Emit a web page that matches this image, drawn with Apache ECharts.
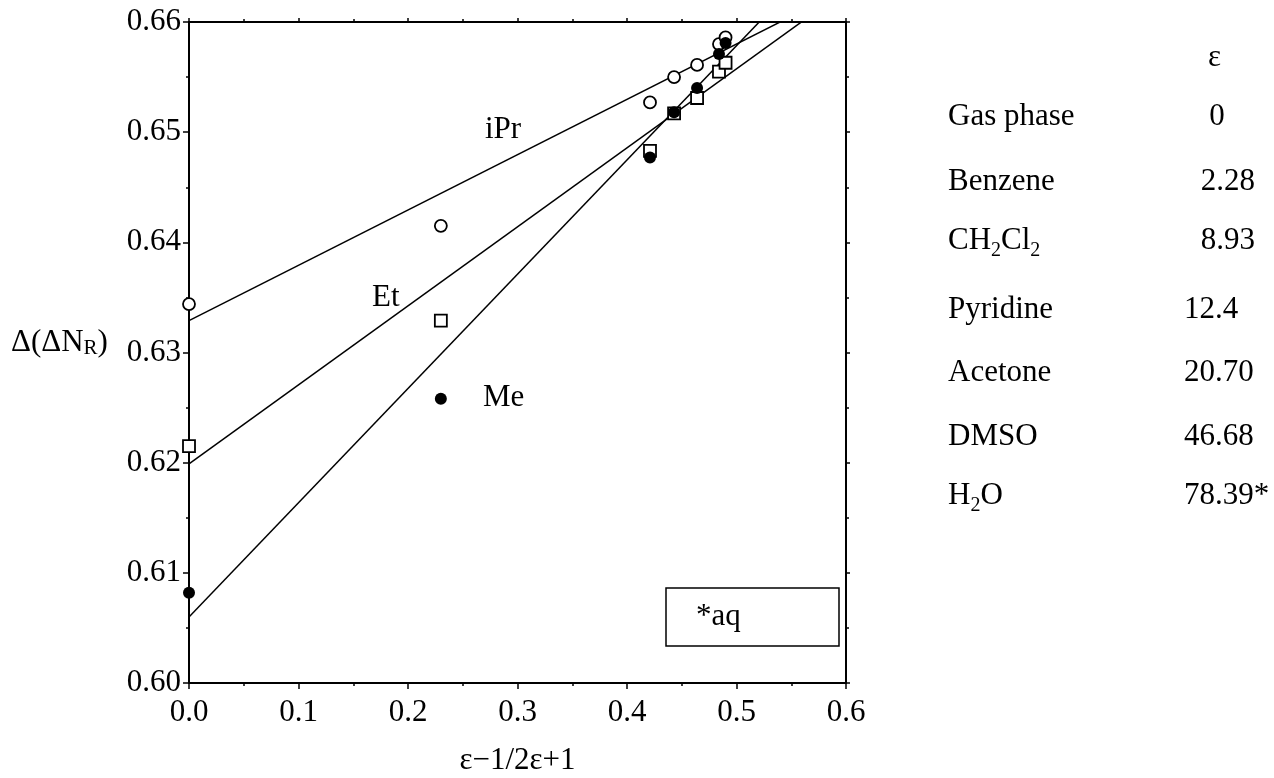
<!DOCTYPE html>
<html>
<head>
<meta charset="utf-8">
<script src="https://cdn.jsdelivr.net/npm/echarts@6/dist/echarts.min.js"></script>
<style>
html,body{margin:0;padding:0;background:#fff;}
#chart{width:1274px;height:778px;}
</style>
</head>
<body>
<div id="chart"></div>
<script>
// solvents, dielectric constants and the polarity function (eps-1)/(2eps+1)
var solvents = ['Gas phase', 'Benzene', 'CH{s|2}Cl{s|2}', 'Pyridine', 'Acetone', 'DMSO', 'H{s|2}O'];
var epsText = ['0', '2.28', '8.93', '12.4', '20.70', '46.68', '78.39*'];
var xPolar = [0, 0.230, 0.421, 0.443, 0.464, 0.484, 0.490];

// Δ(ΔN_R) for each substituent
var iPr = [0.6344, 0.6415, 0.6527, 0.6550, 0.6561, 0.6580, 0.6586];
var Et  = [0.6215, 0.6329, 0.6483, 0.6517, 0.6531, 0.6555, 0.6563];
var Me  = [0.6082, 0.6258, 0.6477, 0.6518, 0.6540, 0.6571, 0.6581];

// fitted lines: iPr, Et, Me
var fitName = ['iPr', 'Et', 'Me'];
var fitIntercept = [0.6329, 0.6199, 0.6060];
var fitSlope = [0.0502, 0.0717, 0.1037];
var fitX = [0, 0.6];

var xTicks = [0, 0.6, 0.1];      // min, max, step
var yTicks = [0.60, 0.66, 0.01];

var FONT = 'Liberation Serif';
var FS = 31;

function fitLine(i) {
    return fitX.map(function (x) { return [x, fitIntercept[i] + fitSlope[i] * x]; });
}
function pts(arr) {
    return xPolar.map(function (x, i) { return [x, arr[i]]; });
}

var black = '#000';
var tickStyle = {color: black, width: 1.5};

var chart = echarts.init(document.getElementById('chart'));

// right-hand table
var rowY = [117, 182, 241, 310, 373, 437, 496];
var valAnchor = [[1217, 'center'], [1255, 'right'], [1255, 'right'], [1184, 'left'], [1184, 'left'], [1184, 'left'], [1184, 'left']];
var subRich = {s: {fontSize: 20, fontFamily: FONT, padding: [20, 0, 0, 0], verticalAlign: 'bottom'}};
var graphics = [];
graphics.push({type: 'text', left: 1208, top: 42, style: {text: 'ε', font: FS + 'px ' + FONT, fill: black}});
solvents.forEach(function (s, i) {
    graphics.push({type: 'text', x: 948, y: rowY[i],
        style: {text: s, fontSize: FS, fontFamily: FONT, fill: black, verticalAlign: 'middle', rich: subRich}});
    graphics.push({type: 'text', x: valAnchor[i][0], y: rowY[i],
        style: {text: epsText[i], fontSize: FS, fontFamily: FONT, fill: black, align: valAnchor[i][1], verticalAlign: 'middle'}});
});
// y axis title
graphics.push({type: 'text', x: 11, y: 343,
    style: {text: 'Δ(ΔN{r|R})', fontSize: FS, fontFamily: FONT, fill: black, verticalAlign: 'middle',
        rich: {r: {fontSize: 21, fontFamily: FONT, verticalAlign: 'bottom'}}}});
// *aq box
graphics.push({type: 'rect', shape: {x: 666, y: 588, width: 173, height: 58},
    style: {fill: 'none', stroke: black, lineWidth: 1.5}});
graphics.push({type: 'text', x: 696, y: 617, style: {text: '*aq', fontSize: FS, fontFamily: FONT, fill: black, verticalAlign: 'middle'}});
// line labels
var labelPos = [[485, 130], [372, 298], [483, 398]];
fitName.forEach(function (n, i) {
    graphics.push({type: 'text', x: labelPos[i][0], y: labelPos[i][1],
        style: {text: n, fontSize: FS, fontFamily: FONT, fill: black, verticalAlign: 'middle'}});
});

var series = [];
fitName.forEach(function (n, i) {
    series.push({name: n + ' fit', type: 'line', data: fitLine(i), symbol: 'none', silent: true,
        clip: true, lineStyle: {color: black, width: 1.5}, z: 2});
});
series.push({name: 'iPr', type: 'scatter', data: pts(iPr), symbol: 'circle', symbolSize: 12,
    itemStyle: {color: '#fff', borderColor: black, borderWidth: 1.8, opacity: 1}, z: 3});
series.push({name: 'Et', type: 'scatter', data: pts(Et), symbol: 'rect', symbolSize: 12,
    itemStyle: {color: '#fff', borderColor: black, borderWidth: 1.8, opacity: 1}, z: 3});
series.push({name: 'Me', type: 'scatter', data: pts(Me), symbol: 'circle', symbolSize: 12,
    itemStyle: {color: black, opacity: 1}, z: 4});

function baseAxis(extra) {
    var a = {
        type: 'value',
        axisLine: {show: true, onZero: false, lineStyle: {color: black, width: 2}},
        axisTick: {show: true, inside: false, length: 6, lineStyle: tickStyle},
        minorTick: {show: true, splitNumber: 2, length: 3, lineStyle: tickStyle},
        splitLine: {show: false},
        minorSplitLine: {show: false}
    };
    for (var k in extra) a[k] = extra[k];
    return a;
}

var option = {
    animation: false,
    backgroundColor: '#fff',
    grid: {left: 189, right: 428, top: 22, height: 661, outerBoundsMode: 'none'},
    xAxis: [
        baseAxis({min: xTicks[0], max: xTicks[1], interval: xTicks[2], position: 'bottom',
            axisLabel: {show: true, showMinLabel: true, showMaxLabel: true, margin: 14, color: black,
                fontFamily: FONT, fontSize: FS, formatter: function (v) { return v.toFixed(1); }},
            name: 'ε−1/2ε+1', nameLocation: 'middle', nameGap: 62,
            nameTextStyle: {color: black, fontFamily: FONT, fontSize: FS}}),
        baseAxis({min: xTicks[0], max: xTicks[1], interval: xTicks[2], position: 'top',
            axisLabel: {show: false}, axisTick: {show: true, inside: false, length: 4, lineStyle: tickStyle}})
    ],
    yAxis: [
        baseAxis({min: yTicks[0], max: yTicks[1], interval: yTicks[2], position: 'left',
            axisLabel: {show: true, showMinLabel: true, showMaxLabel: true, margin: 8, color: black,
                fontFamily: FONT, fontSize: FS, formatter: function (v) { return v.toFixed(2); }}}),
        baseAxis({min: yTicks[0], max: yTicks[1], interval: yTicks[2], position: 'right',
            axisLabel: {show: false}, axisTick: {show: true, inside: false, length: 4, lineStyle: tickStyle}})
    ],
    series: series,
    graphic: graphics
};
chart.setOption(option);
</script>
</body>
</html>
